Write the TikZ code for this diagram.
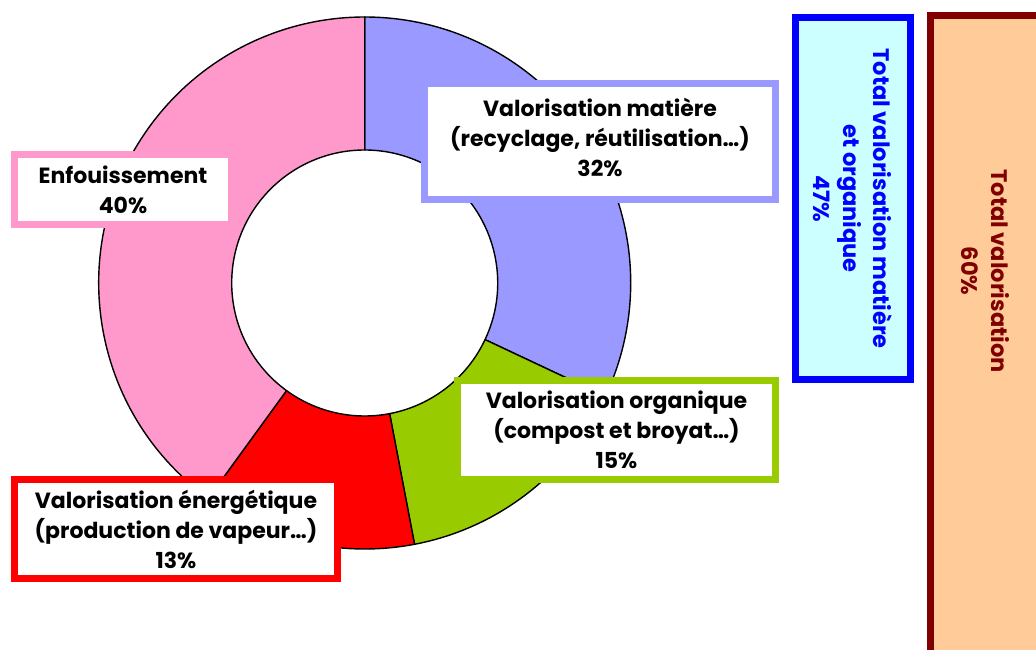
\documentclass[tikz,border=0pt]{standalone}
\usepackage{fontspec}
\setmainfont{Poppins}
\usetikzlibrary{calc}
\definecolor{cMat}{HTML}{9999FF}
\definecolor{cOrg}{HTML}{99CC00}
\definecolor{cEne}{HTML}{FF0000}
\definecolor{cEnf}{HTML}{FF99CC}
\definecolor{cCyan}{HTML}{CCFFFF}
\definecolor{cBlue}{HTML}{0000FF}
\definecolor{cPeach}{HTML}{FFCC99}
\definecolor{cMaroon}{HTML}{800000}
\newcommand\donutseg[3]{%
  \filldraw[seg, fill=#3] ($(c)+(#1:\Ro)$) arc[start angle=#1, end angle=#2, radius=\Ro]
    -- ($(c)+(#2:\Ri)$) arc[start angle=#2, end angle=#1, radius=\Ri] -- cycle;}
\begin{document}
\begin{tikzpicture}[x=1pt,y=-1pt,
  seg/.style={draw=black, line width=1.4pt, line join=round},
  lbl/.style={draw, line width=7pt, fill=white, align=center, inner sep=0pt,
    font=\fontsize{22}{30}\selectfont\bfseries},
  tot/.style={draw, line width=7pt, align=center, inner sep=0pt, rotate=-90,
    font=\fontsize{22.5}{30}\selectfont\bfseries}]
\path[use as bounding box] (0,0) rectangle (1036,650);
\clip (0,0) rectangle (1036,650);
\fill[white] (0,0) rectangle (1036,650);
\coordinate (c) at (364.7,283);
\def\Ro{266}
\def\Ri{133}
\donutseg{-90}{25.2}{cMat}
\donutseg{25.2}{79.2}{cOrg}
\donutseg{79.2}{126}{cEne}
\donutseg{126}{270}{cEnf}
% labels
\node[lbl, draw=cMat, minimum width=351pt, minimum height=116pt] (mat) at (600,141.5) {};
\node[align=center, inner sep=0pt, font=\fontsize{22}{30}\selectfont\bfseries] (matt) at (600,137)
  {Valorisation matière\\(recyclage, réutilisation…)\\32\%};
\node[lbl, draw=cEnf, minimum width=217pt, minimum height=70pt] (enf) at (123,189.5)
  {Enfouissement\\40\%};
\node[lbl, draw=cOrg, minimum width=318pt, minimum height=99pt] (org) at (616.5,430)
  {Valorisation organique\\(compost et broyat…)\\15\%};
\node[lbl, draw=cEne, minimum width=323pt, minimum height=99pt] (ene) at (176,529)
  {Valorisation énergétique\\(production de vapeur…)\\13\%};
% totals
\node[tot, draw=cBlue, fill=cCyan, text=cBlue, minimum width=362pt, minimum height=115pt] (tmo) at (853,198.5)
  {Total valorisation matière\\et organique\\47\%};
\node[draw=cMaroon, fill=cPeach, line width=7pt, minimum width=120pt, minimum height=700pt, inner sep=0pt] (tvbox) at (990.5,365.5) {};
\node[tot, draw=none, text=cMaroon] (tv) at (985,271) {Total valorisation\\60\%};
\end{tikzpicture}
\end{document}
